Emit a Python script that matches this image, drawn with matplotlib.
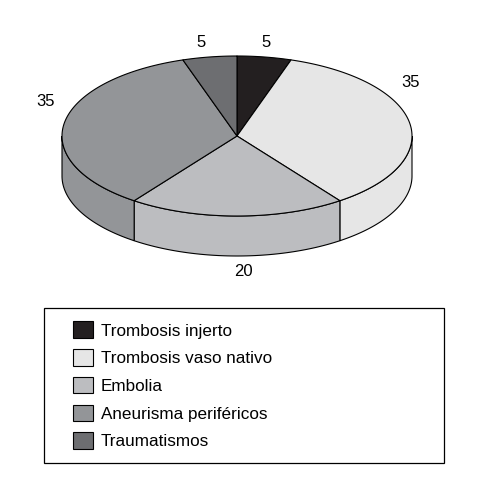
import numpy as np
import matplotlib
matplotlib.use("Agg")
import matplotlib.pyplot as plt
from matplotlib.patches import Polygon, Rectangle, Patch

plt.rcParams["font.family"] = ["Liberation Sans", "DejaVu Sans"]

categories = ["Trombosis injerto", "Trombosis vaso nativo", "Embolia",
              "Aneurisma periféricos", "Traumatismos"]
values = [5, 35, 20, 35, 5]
colors = ["#231f20", "#e6e6e6", "#bcbdc0", "#939598", "#6d6e71"]

# value label nudges (px) from the rim point at each wedge's mid angle
label_nudge = [(2, -14), (1, -41), (6, 55), (-19, -22), (-9, -14)]

# pie geometry in pixel space (y grows downward)
CX, CY = 237, 136
RX, RY = 175, 80
DEPTH = 40
START = 90.0


def rim(t_deg, drop=0.0):
    t = np.radians(t_deg)
    return CX + RX * np.cos(t), CY - RY * np.sin(t) + drop


fig = plt.figure(figsize=(4.9, 4.8), dpi=100)
ax = fig.add_axes([0, 0, 1, 1])
ax.set_xlim(0, 490)
ax.set_ylim(480, 0)
ax.axis("off")

total = float(sum(values))
spans = []
t_hi = START
for v in values:
    t_lo = t_hi - 360.0 * v / total
    spans.append((t_lo, t_hi))
    t_hi = t_lo

# side walls: only the front half of the disc is visible
for (a, b), c in zip(spans, colors):
    for f0, f1 in [(-180, 0), (180, 360), (-540, -360)]:
        lo, hi = max(a, f0), min(b, f1)
        if hi <= lo:
            continue
        ts = np.linspace(lo, hi, 80)
        xs, ys = rim(ts)
        xb, yb = rim(ts[::-1], DEPTH)
        pts = np.column_stack([np.r_[xs, xb], np.r_[ys, yb]])
        ax.add_patch(Polygon(pts, closed=True, facecolor=c,
                             edgecolor="black", linewidth=0.8))

# top face wedges
for (a, b), c in zip(spans, colors):
    ts = np.linspace(a, b, 120)
    xs, ys = rim(ts)
    pts = np.column_stack([np.r_[CX, xs], np.r_[CY, ys]])
    ax.add_patch(Polygon(pts, closed=True, facecolor=c,
                         edgecolor="black", linewidth=0.8, joinstyle="round"))

# value labels
for (a, b), v, (dx, dy) in zip(spans, values, label_nudge):
    x, y = rim((a + b) / 2)
    ax.text(x + dx, y + dy, f"{v}", fontsize=12, ha="center", va="center")

# legend box
ax.add_patch(Rectangle((44, 308), 400, 155, facecolor="white",
                       edgecolor="black", linewidth=0.9))
handles = [Patch(facecolor=c, edgecolor="black", linewidth=0.8) for c in colors]
ax.legend(handles, categories, loc="upper left",
          bbox_to_anchor=(70 / 490, 1 - 318 / 480), frameon=False,
          fontsize=12.3, handlelength=1.12, handleheight=1.12,
          handletextpad=0.5, labelspacing=0.62, borderpad=0.2,
          borderaxespad=0)

fig.savefig("out.png", dpi=100)
